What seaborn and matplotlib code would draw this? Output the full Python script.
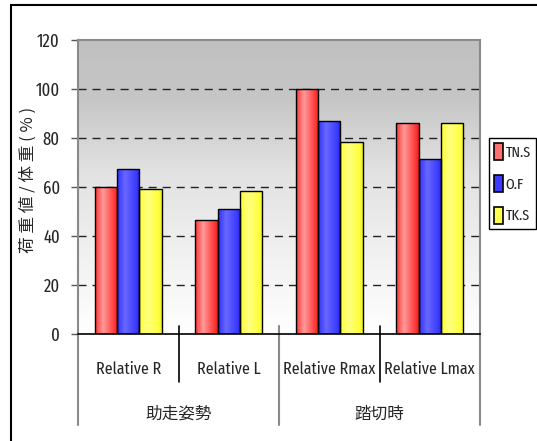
import numpy as np
import pandas as pd
import matplotlib
matplotlib.use("Agg")
import matplotlib.pyplot as plt
import seaborn as sns
from matplotlib.colors import LinearSegmentedColormap
from matplotlib.patches import Patch, Rectangle
import matplotlib.transforms as mtransforms

# ---- data ----
categories = ["Relative R", "Relative L", "Relative Rmax", "Relative Lmax"]
groups = ["助走姿勢", "踏切時"]
series = ["TN.S", "O.F", "TK.S"]
tn_s = [60, 46.7, 100, 86.2]
o_f = [67.5, 51.2, 87, 71.4]
tk_s = [59, 58.2, 78.5, 86.2]
yticks = [0, 20, 40, 60, 80, 100, 120]
ylabel = "荷 重 値 / 体 重 ( % )"

df = pd.DataFrame({
    "category": categories * 3,
    "series": [s for s in series for _ in categories],
    "value": tn_s + o_f + tk_s,
})

sns.set_style("white")
plt.rcParams['font.family'] = ['Fira Sans Extra Condensed', 'Noto Sans CJK JP', 'DejaVu Sans']
CJK = ["Noto Sans CJK JP", "DejaVu Sans"]

W, H = 537, 441
fig = plt.figure(figsize=(W / 100, H / 100), dpi=100)
L, R, T, B = 78, 480, 40, 334
ax = fig.add_axes([L / W, (H - B) / H, (R - L) / W, (B - T) / H])

base_colors = {"TN.S": "#ff3333", "O.F": "#3333ff", "TK.S": "#ffff33"}
sns.barplot(data=df, x="category", y="value", hue="series", order=categories,
            hue_order=series, palette=base_colors, width=0.67, dodge=True,
            edgecolor="black", linewidth=1.0, saturation=1, legend=False, ax=ax)

ax.set_ylim(0, 120)
ax.set_xlim(-0.5, 3.5)

# background gradient
bg_cmap = LinearSegmentedColormap.from_list(
    "bg", [(0, "#ffffff"), (0.55, "#e2e2e2"), (0.8, "#c6c6c6"), (1, "#c0c0c0")])
grad = np.linspace(0, 1, 256).reshape(-1, 1)
ax.imshow(grad, extent=[0, 1, 0, 1], transform=ax.transAxes, origin="lower",
          aspect="auto", cmap=bg_cmap, zorder=0)

# bar gradients (cylinder look)
bar_cmaps = {
    "TN.S": LinearSegmentedColormap.from_list("r", [(0, "#ff3030"), (0.35, "#ff9a9a"), (0.85, "#ff3838"), (1, "#e82020")]),
    "O.F": LinearSegmentedColormap.from_list("b", [(0, "#3030ff"), (0.35, "#6868ff"), (0.85, "#3a3aff"), (1, "#2020e0")]),
    "TK.S": LinearSegmentedColormap.from_list("y", [(0, "#ffff30"), (0.35, "#ffff80"), (0.85, "#ffff40"), (1, "#eeee20")]),
}
hgrad = np.linspace(0, 1, 128).reshape(1, -1)
for s, cont in zip(series, ax.containers):
    for p in cont.patches:
        x0, y0 = p.get_x(), p.get_y()
        w, h = p.get_width(), p.get_height()
        im = ax.imshow(hgrad, extent=[x0, x0 + w, y0, y0 + h], origin="lower",
                       aspect="auto", cmap=bar_cmaps[s], zorder=2)
        im.set_clip_path(p)
        p.set_facecolor("none")
        p.set_zorder(3)

ax.set_xlim(-0.5, 3.5)
ax.set_ylim(0, 120)

# grid
for y in yticks[1:-1]:
    ax.axhline(y, color="#222222", lw=1.0, ls=(0, (5.8, 4.3)), zorder=1)

# spines
for side in ["top", "right", "left"]:
    ax.spines[side].set_color("#8a8a8a")
    ax.spines[side].set_linewidth(1.5)
ax.spines["bottom"].set_color("black")
ax.spines["bottom"].set_linewidth(1.2)
ax.spines["bottom"].set_zorder(5)

ax.set_yticks(yticks)
ax.set_yticklabels([str(v) for v in yticks], fontsize=13)
ax.tick_params(axis="y", direction="out", length=5, width=1, color="#555555", pad=8, left=True)
ax.set_xticks([])
ax.set_xlabel("")
ax.set_ylabel("")

fig.text(28 / W, 1 - 180 / H, ylabel, rotation=90, ha="center", va="center",
         fontsize=12, family=CJK)

# category axis
tr = mtransforms.blended_transform_factory(ax.transData, ax.transAxes)
ph = B - T
def fy(py):
    return (B - py) / ph
for xs in [0.5, 2.5]:
    ax.plot([xs, xs], [fy(326), fy(382)], color="black", lw=1.2, transform=tr, clip_on=False, zorder=5)
for xs in [-0.5, 1.5, 3.5]:
    ax.plot([xs, xs], [fy(326) if xs == 1.5 else 0, fy(425)], color="#8a8a8a", lw=1.5,
            transform=tr, clip_on=False, zorder=5)
for i, c in enumerate(categories):
    ax.text(i, fy(369), c, transform=tr, ha="center", va="center", fontsize=12.5)
for gi, g in enumerate(groups):
    ax.text(0.5 + 2 * gi, fy(414), g, transform=tr, ha="center", va="center",
            fontsize=12, family=CJK)

# legend
handles = [Patch(facecolor=c, edgecolor="black", linewidth=1.2)
           for c in ["#ff7070", "#3b3bff", "#ffff50"]]
leg = fig.legend(handles, series, loc="upper left",
                 bbox_to_anchor=(489 / W, 1 - 138 / H), frameon=True, fancybox=False,
                 edgecolor="black", framealpha=1, fontsize=11, handlelength=0.55,
                 handleheight=1.35, handletextpad=0.2, labelspacing=0.95,
                 borderpad=0.35, borderaxespad=0)
leg.get_frame().set_linewidth(1.0)

# outer frame
fig.patches.append(Rectangle((11 / W, -0.05), 1.2, 1 - 5 / H + 0.05, transform=fig.transFigure,
                             fill=False, edgecolor="black", linewidth=1.5))

fig.savefig("out.png", dpi=100)
